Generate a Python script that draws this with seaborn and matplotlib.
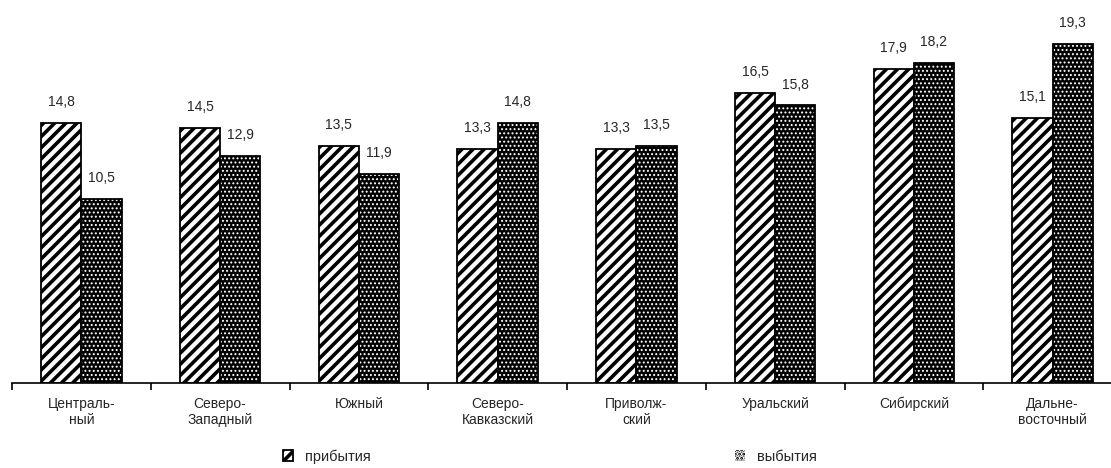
import matplotlib
matplotlib.use("Agg")
import matplotlib.pyplot as plt
import seaborn as sns
import pandas as pd
import numpy as np
from matplotlib.patches import Patch, Rectangle

regions = ['Централь-\nный', 'Северо-\nЗападный', 'Южный', 'Северо-\nКавказский',
           'Приволж-\nский', 'Уральский', 'Сибирский', 'Дальне-\nвосточный']
arrivals = [14.8, 14.5, 13.5, 13.3, 13.3, 16.5, 17.9, 15.1]
departures = [10.5, 12.9, 11.9, 14.8, 13.5, 15.8, 18.2, 19.3]
series_names = ['прибытия', 'выбытия']

df = pd.DataFrame({
    'region': regions * 2,
    'value': arrivals + departures,
    'series': [series_names[0]] * len(regions) + [series_names[1]] * len(regions),
})

sns.set_style('white')
plt.rcParams['font.family'] = ['Liberation Sans', 'DejaVu Sans']
plt.rcParams['hatch.linewidth'] = 2.6

fig = plt.figure(figsize=(11.11, 4.68), dpi=100)
# axis baseline at y=383 px, starts at x=12 px, runs past right edge
ax = fig.add_axes([12 / 1111, 85 / 468, 1110 / 1111, 383 / 468])

sns.barplot(data=df, x='region', y='value', hue='series', order=regions,
            hue_order=series_names, width=0.58, ax=ax, legend=False,
            palette=['white', 'black'], saturation=1)


def dotted(p):
    p.set_facecolor('black')
    p.set_edgecolor('white')
    p.set_hatch('....')
    p.set_linewidth(0)
    if hasattr(p, 'set_hatch_linewidth'):
        p.set_hatch_linewidth(0.9)
    else:
        p._hatch_linewidth = 0.9


n = len(regions)
for i, p in enumerate(ax.patches[:2 * n]):
    if i < n:
        p.set_facecolor('white')
        p.set_edgecolor('black')
        p.set_hatch('///')
        p.set_linewidth(1.3)
    else:
        dotted(p)
        b = p.get_bbox()
        ax.add_patch(Rectangle((b.x0, b.y0), b.width, b.height, fill=False,
                               edgecolor='black', linewidth=1.3, zorder=p.get_zorder() + 0.1))

for container in ax.containers:
    ax.bar_label(container, labels=[f'{v:.1f}'.replace('.', ',') for v in container.datavalues],
                 padding=10, fontsize=10)

ax.set_ylim(0, 21.8)
ax.set_xlim(-0.5, 7.5)
ax.set_xlabel('')
ax.set_ylabel('')
ax.set_yticks([])
sns.despine(ax=ax, left=True, top=True, right=True)
ax.spines['bottom'].set_linewidth(1.2)
ax.spines['bottom'].set_color('black')
ax.set_xticks(np.arange(-0.5, n, 1.0), minor=True)
ax.tick_params(axis='x', which='minor', length=5, width=1.2, color='black', direction='out', bottom=True)
ax.tick_params(axis='x', which='major', length=0, pad=10, labelsize=10)

h1 = Patch(facecolor='white', edgecolor='black', hatch='///', linewidth=1.3)
h2 = Patch(facecolor='black', edgecolor='white', hatch='....', linewidth=0)
if hasattr(h2, 'set_hatch_linewidth'):
    h2.set_hatch_linewidth(0.9)
fig.legend([h1, h2], series_names, loc='center', bbox_to_anchor=(0.495, 0.025), ncol=2,
           frameon=False, fontsize=10.5, handlelength=0.7, handleheight=0.7,
           columnspacing=25, handletextpad=0.8)

fig.savefig('out.png', dpi=100)
